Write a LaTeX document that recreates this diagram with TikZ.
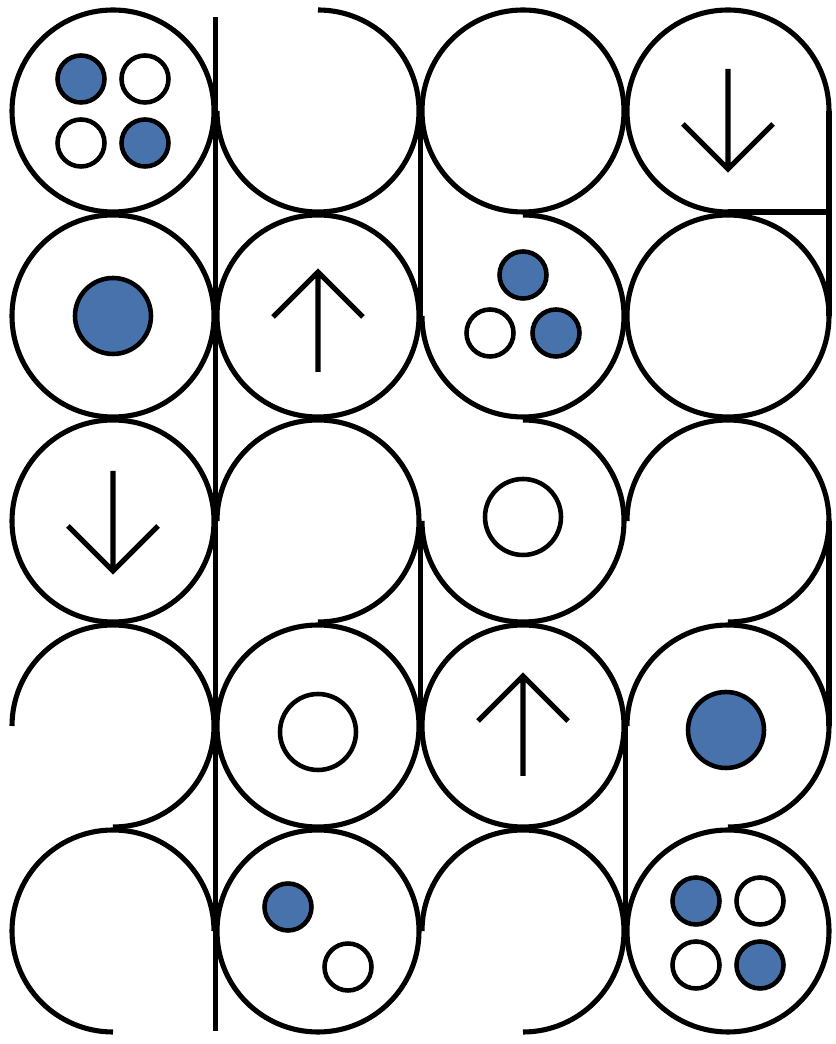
\documentclass[tikz,border=0pt]{standalone}
\usepackage{tikz}
\usetikzlibrary{calc}
\definecolor{tokblue}{RGB}{72,114,172}
\tikzset{
  ringln/.style={line width=2.9pt},
  railln/.style={line width=3.3pt},
  arrln/.style={line width=2.9pt},
  dotB/.style={circle,draw,line width=2.6pt,fill=tokblue,inner sep=0pt,minimum size=0.94cm},
  dotW/.style={circle,draw,line width=2.6pt,fill=white,inner sep=0pt,minimum size=0.94cm},
  bigdot/.style={minimum size=1.52cm},
}
\begin{document}
\begin{tikzpicture}[x=0.02cm,y=0.02cm]
  \useasboundingbox (0,0) rectangle (835,1044);
  \def\rr{101}
  % cells, row 1 on top
  \foreach \rw in {1,...,5}{
    \foreach \cl in {1,...,4}{
      \coordinate (c\rw\cl) at ({113+205*(\cl-1)},{933-205*(\rw-1)});}}
  % whole rings
  \foreach \cel in {c11,c13,c21,c22,c24,c31,c42,c43,c52,c54}
    \draw[ringln] (\cel) circle[radius=\rr];
  % open rings: cell/start/end
  \foreach \cel/\a/\b in {c12/90/-180,c23/90/-180,c33/90/-180,c14/0/270,c51/0/270,
      c32/-90/180,c34/-90/180,c41/-90/180,c44/-90/180,c53/-90/180}
    \draw[ringln] (\cel) ++(\a:\rr) arc[start angle=\a,end angle=\b,radius=\rr];
  % straight rails
  \draw[railln] ($(c11)!.5!(c12)+(0,94)$) -- ($(c51)!.5!(c52)-(0,100)$);
  \draw[railln] ($(c12)!.5!(c13)$) -- ($(c22)!.5!(c23)$);
  \draw[railln] ($(c32)!.5!(c33)$) -- ($(c42)!.5!(c43)$);
  \draw[railln] ($(c43)!.5!(c44)$) -- ($(c53)!.5!(c54)$);
  \draw[railln] ($(c14)+(\rr,0)$) -- ($(c24)+(\rr,0)$);
  \draw[railln] ($(c14)+(0,-\rr)$) -- ($(c14)+(\rr,-\rr)$);
  \draw[railln] ($(c34)+(\rr,0)$) -- ($(c44)+(\rr,0)$);
  % arrows: cell/direction (1 up, -1 down)/shift
  \foreach \cel/\dir/\dy in {c22/1/-6,c43/1/0,c14/-1/-8,c31/-1/0}
    \draw[arrln] ($(\cel)+(0,\dy)$) ++(0,-50*\dir) -- ++(0,100*\dir)
      ++(-45,-45*\dir) -- ++(45,45*\dir) -- ++(45,-45*\dir);
  % four tokens
  \foreach \dx/\dy/\st [count=\k] in {-32/32/dotB,32/32/dotW,-32/-32/dotW,32/-32/dotB}{
    \node[\st] (a\k) at ($(c11)+(\dx,\dy)$) {};
    \node[\st] (b\k) at ($(c54)+(\dx,\dy-2)$) {};}
  % three tokens
  \node[dotB] (m1) at ($(c23)+(0,41)$) {};
  \node[dotW] (m2) at ($(c23)+(-33,-17)$) {};
  \node[dotB] (m3) at ($(c23)+(33,-17)$) {};
  % two tokens
  \node[dotB] (p1) at ($(c52)+(-30,24)$) {};
  \node[dotW] (p2) at ($(c52)+(30,-36)$) {};
  % big tokens
  \node[dotB,bigdot] (g1) at (c21) {};
  \node[dotB,bigdot] (g2) at ($(c44)+(-2,-4)$) {};
  \node[dotW,bigdot] (g3) at ($(c33)+(0,4)$) {};
  \node[dotW,bigdot] (g4) at ($(c42)+(0,-6)$) {};
\end{tikzpicture}
\end{document}
